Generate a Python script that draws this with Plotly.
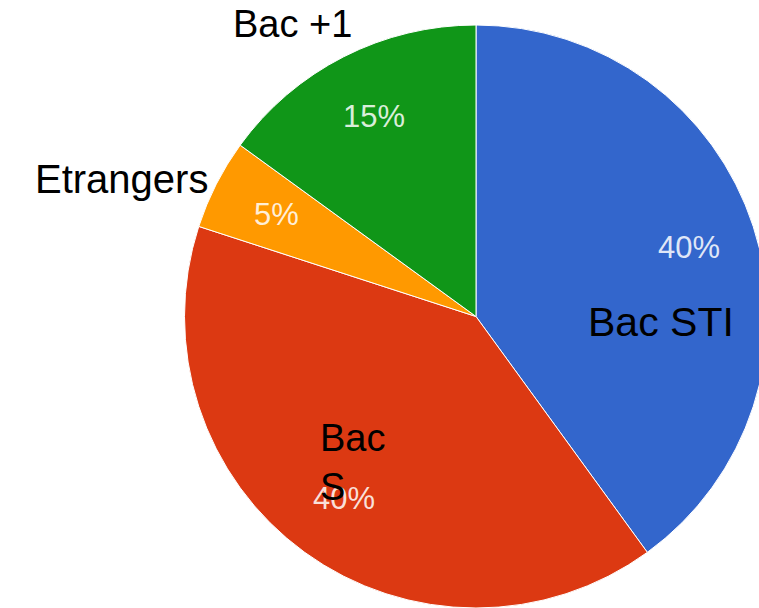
import math
import plotly.graph_objects as go

labels = ["Bac STI", "Bac S", "Etrangers", "Bac +1"]
values = [40, 40, 5, 15]
colors = ["#3366CC", "#DC3912", "#FF9900", "#109618"]

W, H = 770, 608
cx, top = 476, 25
R = (H - top) / 2          # pie radius in px (plot area is H - top tall)
cy = top + R

FONT = "Liberation Sans, Arial"

fig = go.Figure(go.Pie(
    labels=labels, values=values, sort=False, direction="clockwise", rotation=0,
    marker=dict(colors=colors, line=dict(color="white", width=1)),
    textinfo="none",
    domain=dict(x=[(cx - R) / W, (cx + R) / W], y=[0, 1]),
    showlegend=False, hoverinfo="label+percent",
))

fig.update_layout(
    width=W, height=H, margin=dict(l=0, r=0, t=top, b=0),
    paper_bgcolor="white", plot_bgcolor="white",
)


def to_paper(px, py):
    return px / W, 1 - (py - top) / (H - top)


# percentage labels, placed along each slice's mid-angle (Google-chart style)
total = sum(values)
cum = 0
for v in values:
    mid = (cum + v / 2) / total * 2 * math.pi
    cum += v
    px = cx + 0.77 * R * math.sin(mid)
    py = cy - 0.77 * R * math.cos(mid)
    x, y = to_paper(px, py)
    fig.add_annotation(
        text=f"{round(v / total * 100)}%", xref="paper", yref="paper", x=x, y=y,
        xanchor="center", yanchor="middle", showarrow=False,
        font=dict(family=FONT, size=31, color="rgba(255,255,255,0.85)"),
    )

# black overlay labels
label_pos = {
    "Bac STI": (661, 322, 41, "center"),
    "Bac S": (318, 462, 38, "left"),
    "Etrangers": (121, 179, 40, "center"),
    "Bac +1": (292, 24, 38, "center"),
}
for lab in labels:
    px, py, fs, al = label_pos[lab]
    txt = "Bac<br>S" if lab == "Bac S" else lab
    x, y = to_paper(px, py)
    fig.add_annotation(
        text=txt, xref="paper", yref="paper", x=x, y=y,
        xanchor="left" if al == "left" else "center", yanchor="middle",
        align="left", showarrow=False,
        font=dict(family=FONT, size=fs, color="black"),
    )

post = ("document.body.style.margin='0';document.body.style.overflow='hidden';"
        "document.documentElement.style.overflow='hidden';")
fig.write_html("out.html", post_script=post, config={"displayModeBar": False})
